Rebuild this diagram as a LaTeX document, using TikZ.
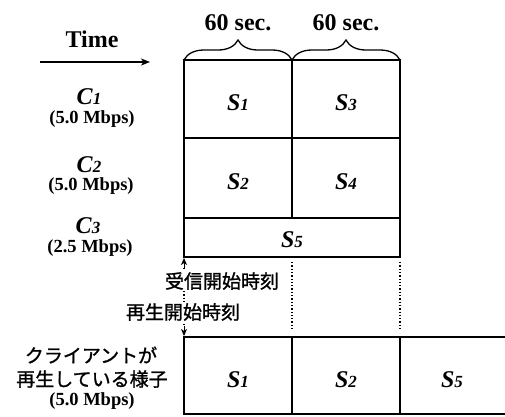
\documentclass[tikz,border=0pt]{standalone}
\usepackage{fontspec}
\setmainfont{Liberation Serif}
\newfontfamily\jpfont[AutoFakeBold=1.2]{Noto Sans CJK JP}
\usetikzlibrary{arrows.meta,decorations.pathreplacing}
\newcommand{\seglbl}[2]{{\bfseries\itshape #1}{\fontsize{17}{17}\selectfont\itshape #2}}
\begin{document}
\begin{tikzpicture}[x=1pt,y=-1pt,
  cellbox/.style={draw,line width=1.4pt,inner sep=0pt,outer sep=0pt,minimum width=108pt,minimum height=78pt},
  biglbl/.style={font=\fontsize{24}{24}\selectfont\bfseries,inner sep=0pt},
  ratelbl/.style={font=\fontsize{18.5}{18.5}\selectfont\bfseries,inner sep=0pt},
  jplbl/.style={font=\fontsize{19}{19}\selectfont\jpfont\bfseries,inner sep=1pt,fill=white},
  bracestyle/.style={decorate,decoration={brace,amplitude=20pt},line width=1.3pt},
  dotline/.style={dotted,line width=1.3pt},
  thinarrow/.style={line width=1pt,-{Stealth[length=7pt,width=6pt,inset=2pt]}}]
\useasboundingbox (0,0) rectangle (505,416);
% grid of segments
\node[cellbox] (s1) at (238,99) {};
\node[cellbox] (s3) at (346,99) {};
\node[cellbox,minimum height=80pt] (s2) at (238,178) {};
\node[cellbox,minimum height=80pt] (s4) at (346,178) {};
\node[cellbox,minimum width=216pt,minimum height=39pt] (s5) at (292,237.5) {};
% bottom row
\node[cellbox,minimum height=77pt] (b1) at (238,375.5) {};
\node[cellbox,minimum height=77pt] (b2) at (346,375.5) {};
\coordinate (b3ne) at (505,337);
\coordinate (b3se) at (505,414);
\draw[line width=1.4pt] (b2.north east) -- (b3ne);
\draw[line width=1.4pt] (b2.south east) -- (b3se);
% labels in cells
\node[biglbl] (ts1) at (238,103) {\seglbl{S}{1}};
\node[biglbl] (ts3) at (346,103) {\seglbl{S}{3}};
\node[biglbl] (ts2) at (238,182) {\seglbl{S}{2}};
\node[biglbl] (ts4) at (346,182) {\seglbl{S}{4}};
\node[biglbl] (ts5) at (292,240) {\seglbl{S}{5}};
\node[biglbl] (tb1) at (238,380) {\seglbl{S}{1}};
\node[biglbl] (tb2) at (346,380) {\seglbl{S}{2}};
\node[biglbl] (tb3) at (452,380) {\seglbl{S}{5}};
% braces
\draw[bracestyle] (s1.north west) -- (s1.north east);
\draw[bracestyle] (s3.north west) -- (s3.north east);
\node[biglbl,anchor=base] (sec1) at (238,30) {60 sec.};
\node[biglbl,anchor=base] (sec2) at (346,30) {60 sec.};
% time arrow
\node[biglbl,anchor=base] (time) at (92,47) {Time};
\coordinate (ta) at (40,62);
\coordinate (tb) at (150,62);
\draw[line width=1.2pt,-{Stealth[length=9pt,width=7pt,inset=2.5pt]}] (ta) -- (tb);
% channel labels
\node[biglbl,anchor=base] (c1) at (89,104) {\seglbl{C}{1}};
\node[ratelbl,anchor=base] (c1r) at (92,123) {(5.0 Mbps)};
\node[biglbl,anchor=base] (c2) at (89,172) {\seglbl{C}{2}};
\node[ratelbl,anchor=base] (c2r) at (91,190) {(5.0 Mbps)};
\node[biglbl,anchor=base] (c3) at (88,233.5) {\seglbl{C}{3}};
\node[ratelbl,anchor=base] (c3r) at (90,252.5) {(2.5 Mbps)};
% dotted guides
\coordinate (d1t) at (292,262);
\coordinate (d1b) at (292,331);
\coordinate (d2t) at (400,262);
\coordinate (d2b) at (400,331);
\draw[dotline] (d1t) -- (d1b);
\draw[dotline] (d2t) -- (d2b);
% start arrows
\coordinate (at) at (184,258);
\coordinate (am) at (184,268);
\coordinate (an) at (184,326);
\coordinate (ab) at (184,336);
\draw[dotline] (am) -- (an);
\draw[thinarrow] (am) -- (at);
\draw[thinarrow] (an) -- (ab);
\node[jplbl] (recv) at (222,281) {受信開始時刻};
\node[jplbl] (play) at (183,312) {再生開始時刻};
% client labels
\node[jplbl,fill=none] (cl1) at (91,355) {クライアントが};
\node[jplbl,fill=none] (cl2) at (92,379) {再生している様子};
\node[ratelbl,anchor=base] (clr) at (92,405) {(5.0 Mbps)};
\end{tikzpicture}
\end{document}
